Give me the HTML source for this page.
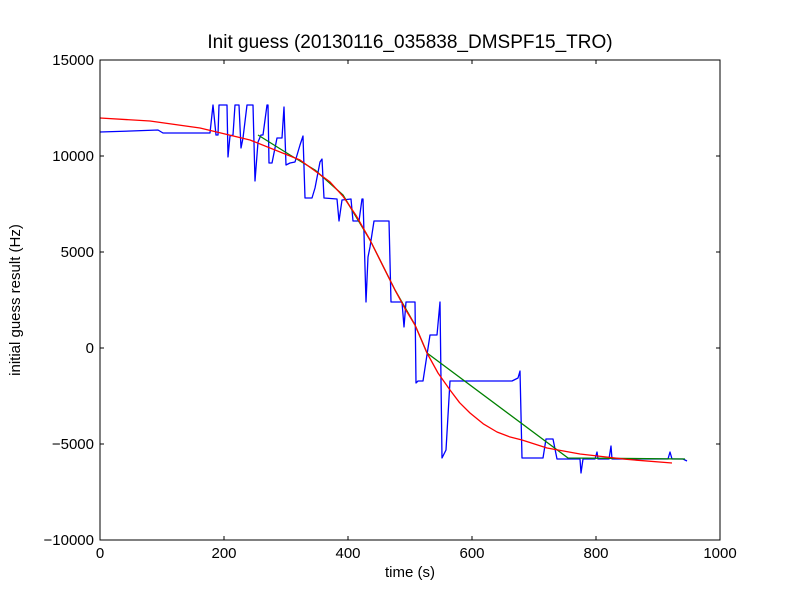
<!DOCTYPE html>
<html><head><meta charset="utf-8"><style>
body{margin:0;background:#fff;}
svg{display:block;font-family:"Liberation Sans","DejaVu Sans",sans-serif;}
</style></head><body>
<svg id="chart" width="800" height="600" xmlns="http://www.w3.org/2000/svg">
<rect x="0" y="0" width="800" height="600" fill="#fff"/>
<text x="410" y="48" text-anchor="middle" font-size="19">Init guess (20130116_035838_DMSPF15_TRO)</text>
<text x="410" y="577" text-anchor="middle" font-size="15">time (s)</text>
<text x="20" y="300" text-anchor="middle" font-size="15" transform="rotate(-90 20 300)">initial guess result (Hz)</text>
<g id="plot"></g>
<rect x="100" y="60" width="620" height="480" fill="none" stroke="#000" stroke-width="1"/>
</svg>
<script>
const xTicks=[0,200,400,600,800,1000];
const yTicks=[15000,10000,5000,0,-5000,-10000];
const yTickLabels=["15000","10000","5000","0","\u22125000","\u221210000"];
const blueT=[0,50,93.5,101.6,169.4,177.4,182.3,187.1,190.3,191.9,204.8,206.5,209.7,214.5,217.7,224.2,227.4,230.6,237.1,246.8,250,254.8,259.7,262.9,269.4,271,272.6,277.4,285.5,293.5,296.8,300,306.5,314.5,322.6,327.4,330.6,341.9,346.8,354.8,358.1,361.3,382.3,385.5,390.3,404.8,408.1,417.7,422.6,424.2,429,432.3,435.5,441.9,466.1,469.4,487.1,490.3,493.5,508.1,509.7,512.9,521,532.3,543.5,548.4,551.6,558.1,564.5,664.5,674.2,677.4,680.6,714.5,719.4,730.6,737.1,774.2,775.8,779,798.4,801.6,803.2,821,824.2,825.8,916.1,919.4,922.6,940.3,946.8];
const blueF=[11250,11300,11354,11198,11198,11198,12656,11094,11094,12656,12656,9948,11042,11094,12656,12656,10417,10938,12656,12656,8698,10729,11094,11094,12656,12656,9635,9635,10938,10938,12552,9531,9635,9688,10573,11042,7813,7813,8333,9688,9844,7813,7760,6615,7708,7760,6615,6615,7760,7760,2396,4740,5260,6615,6615,2396,2396,1094,2396,2396,-1823,-1719,-1719,677,677,2396,-5729,-5313,-1719,-1719,-1563,-1198,-5729,-5729,-4740,-4740,-5781,-5781,-6510,-5781,-5781,-5417,-5781,-5781,-5104,-5781,-5781,-5417,-5781,-5781,-5885];
const greenT=[254.8,306.5,346.8,391.9,435.5,475.8,508.1,527.4,754.8,943.5];
const greenF=[11094,10052,9271,7969,5625,3021,1198,-260,-5729,-5781];
const redT=[0,80.6,161.3,241.9,322.6,371,391.9,413,435.5,456,475.8,492,508.1,518,527.4,545.2,564.5,580,596.8,618,640.3,660,680.6,721,774.2,850,922.6];
const redF=[11979,11823,11458,10833,9792,8650,7900,6900,5625,4300,3021,2050,1198,460,-260,-1302,-2188,-2850,-3385,-3950,-4375,-4620,-4792,-5208,-5521,-5800,-5990];

const NS="http://www.w3.org/2000/svg";
const X0=100,X1=720,Y0=60,Y1=540;
function sx(t){return X0+(t-0)/(1000-0)*(X1-X0);}
function sy(f){return Y0+(15000-f)/(15000-(-10000))*(Y1-Y0);}
const g=document.getElementById('plot');
function mk(tag,attrs){const e=document.createElementNS(NS,tag);for(const k in attrs)e.setAttribute(k,attrs[k]);return e;}
xTicks.forEach((v,i)=>{
  const x=sx(v);
  const t1=mk('line',{x1:x,y1:Y1,x2:x,y2:Y1-4,stroke:'#000'});
  
  
  g.appendChild(t1);
  const t2=mk('line',{x1:x,y1:Y0,x2:x,y2:Y0+4,stroke:'#000'});
  
  
  g.appendChild(t2);
  const tx=mk('text',{x:x,y:Y1+18,'text-anchor':'middle','font-size':15});
  tx.textContent=String(v);
  
  
  g.appendChild(tx);
});
yTicks.forEach((v,i)=>{
  const y=sy(v);
  const t1=mk('line',{x1:X0,y1:y,x2:X0+4,y2:y,stroke:'#000'});
  
  
  g.appendChild(t1);
  const t2=mk('line',{x1:X1,y1:y,x2:X1-4,y2:y,stroke:'#000'});
  
  
  g.appendChild(t2);
  const tx=mk('text',{x:X0-6,y:y+5,'text-anchor':'end','font-size':15});
  tx.textContent=yTickLabels[i];
  
  
  g.appendChild(tx);
});
function line(ts,fs,color,name){
  const pts=ts.map((t,i)=>sx(t).toFixed(1)+','+sy(fs[i]).toFixed(1)).join(' ');
  const p=mk('polyline',{points:pts,fill:'none',stroke:color,'stroke-width':1.3,'stroke-linejoin':'round'});
  
  
  g.appendChild(p);
}
line(blueT,blueF,'#0000ff','series-blue-guess');
line(greenT,greenF,'#008000','series-green-fit');
line(redT,redF,'#ff0000','series-red-fit');
</script>
</body></html>
